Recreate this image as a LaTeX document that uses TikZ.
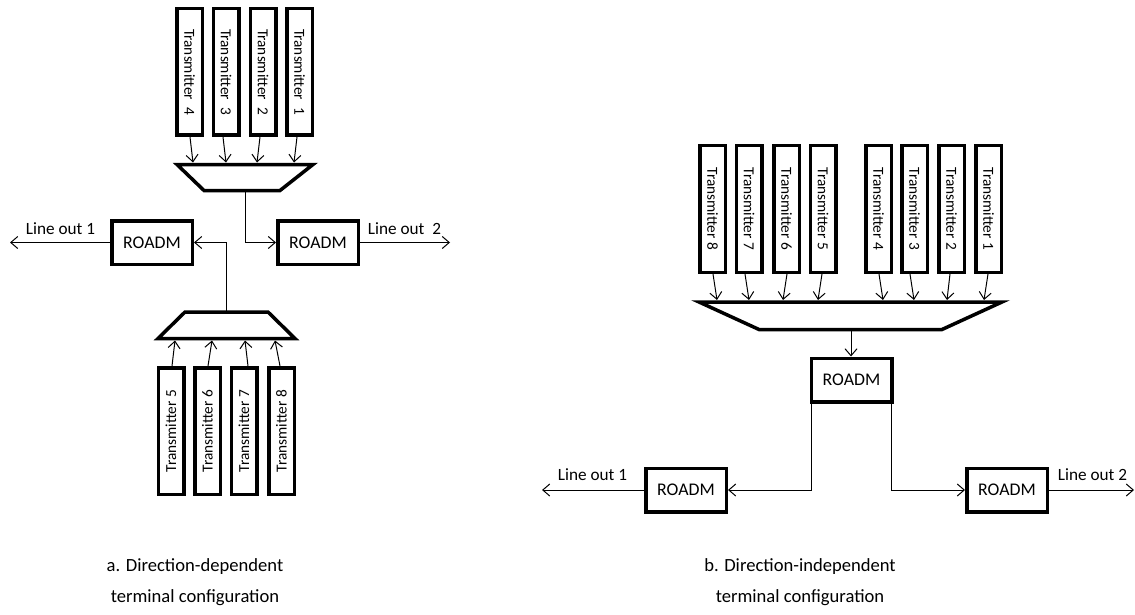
\documentclass[tikz,border=0pt]{standalone}
\usepackage{fontspec}
\usepackage{graphicx}
\setmainfont{Carlito}
\usetikzlibrary{arrows.meta}

\begin{document}
\begin{tikzpicture}[x=1pt,y=-1pt,
  txbox/.style={draw, line width=3.5pt, minimum width=25.5pt, minimum height=126.5pt,
    inner sep=0pt, font=\fontsize{15.3}{17}\selectfont},
  roadm/.style={draw, line width=3.5pt, minimum width=80.5pt, minimum height=43.5pt,
    inner sep=0pt, font=\fontsize{17.8}{20}\selectfont},
  mux/.style={draw, line width=3.5pt, line join=miter},
  arr/.style={-{Straight Barb[length=7pt,width=12pt]}, line width=1pt},
  lbl/.style={font=\fontsize{17.2}{20}\selectfont, inner sep=0pt, anchor=base},
  captext/.style={align=center, font=\fontsize{18.6}{31}\selectfont, inner sep=0pt}
]
\useasboundingbox (0,0) rectangle (1135,615);

% ---------- a. direction-dependent terminal ----------
% transmitters feeding the upper multiplexer
\foreach \n/\x in {4/189.5, 3/226, 2/263, 1/299.5}
  \node[txbox] (ta\n) at (\x,72) {\rotatebox{-90}{Transmitter\ \ \n}};
% transmitters feeding the lower multiplexer
\foreach \n/\x in {5/171, 6/207.5, 7/244, 8/281.5}
  \node[txbox] (ta\n) at (\x,431) {\rotatebox{90}{Transmitter \n}};

% multiplexers (wide side towards the transmitters)
\draw[mux] (177,164.5) -- (313,164.5) -- (280,190.5) -- (204,190.5) -- cycle;
\coordinate (muxAin) at (245,162.5);
\coordinate (muxAout) at (245,192);
\draw[mux] (158,338.5) -- (295,338.5) -- (268,312) -- (185,312) -- cycle;
\coordinate (muxBin) at (226.5,340.5);
\coordinate (muxBout) at (226.5,310.5);

\node[roadm] (ra1) at (152,242.5) {ROADM};
\node[roadm] (ra2) at (318,242.5) {ROADM};

\coordinate (outa1) at (10,242.5);
\coordinate (outa2) at (450,242.5);

\foreach \n/\s/\e in {4/0.5/3.5, 3/-3/0, 2/-3/-6, 1/-2.5/-5.5}
  \draw[arr] ([xshift=\s pt]ta\n.south) -- ([xshift=\e pt]ta\n.south |- muxAin);
\foreach \n/\s/\e in {5/1/4, 6/0.5/4.5, 7/4/1, 8/-1.5/-6.5}
  \draw[arr] ([xshift=\s pt]ta\n.north) -- ([xshift=\e pt]ta\n.north |- muxBin);

\draw[arr] (muxAout) |- (ra2.west);
\draw[arr] (muxBout) |- (ra1.east);
\draw[arr] (ra1.west) -- (outa1);
\draw[arr] (ra2.east) -- (outa2);

\node[lbl] (la1) at (60.5,234) {Line out 1};
\node[lbl] (la2) at (404.5,234) {Line out\ \ 2};

\node[captext] (capa) at (195,582) {a. Direction-dependent\\terminal configuration};

% ---------- b. direction-independent terminal ----------
\foreach \n/\x in {8/712.5, 7/749, 6/786.5, 5/823, 4/878.5, 3/914.5, 2/951.5, 1/988.5}
  \node[txbox] (tb\n) at (\x,209) {\rotatebox{-90}{Transmitter \n}};

\draw[mux] (699,302) -- (1002,302) -- (942,329.5) -- (759,329.5) -- cycle;
\coordinate (muxCin) at (851,300);
\coordinate (muxCout) at (851,331);

\foreach \n/\s/\e in {8/0.5/4.5, 7/-4/0, 6/0.5/-3.5, 5/-1/-5, 4/0.5/4.5, 3/-4.5/-0.5, 2/-1.5/-4.5, 1/-0.5/-4.5}
  \draw[arr] ([xshift=\s pt]tb\n.south) -- ([xshift=\e pt]tb\n.south |- muxCin);

\node[roadm] (rbm) at (851.5,380) {ROADM};
\node[roadm] (rb1) at (686,490) {ROADM};
\node[roadm] (rb2) at (1007,490) {ROADM};

\coordinate (outb1) at (542,490);
\coordinate (outb2) at (1134,490);

\draw[arr] (muxCout) -- (muxCout |- rbm.north);
\draw[arr] ([xshift=1.75pt]rbm.south west) |- (rb1.east);
\draw[arr] ([xshift=-1.75pt]rbm.south east) |- (rb2.west);
\draw[arr] (rb1.west) -- (outb1);
\draw[arr] (rb2.east) -- (outb2);

\node[lbl] (lb1) at (592.5,480) {Line out 1};
\node[lbl] (lb2) at (1092.5,480) {Line out 2};

\node[captext] (capb) at (800,582) {b. Direction-independent\\terminal configuration};
\end{tikzpicture}
\end{document}
